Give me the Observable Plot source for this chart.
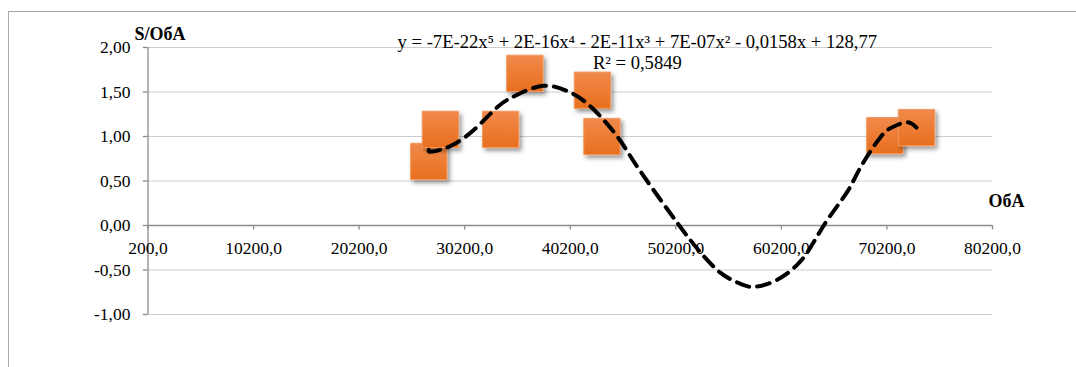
<!DOCTYPE html>
<html><head><meta charset="utf-8">
<script src="https://cdn.jsdelivr.net/npm/d3@7"></script>
<script src="https://cdn.jsdelivr.net/npm/@observablehq/plot@0.6"></script>
<style>
html,body{margin:0;padding:0;background:#fff;overflow:hidden;width:1076px;height:367px;}
#wrap{position:relative;width:1076px;height:367px;}
#frame{position:absolute;left:8px;top:11px;width:1100px;height:400px;border:1.5px solid #a8a8a8;box-sizing:border-box;}
#chart{position:absolute;left:0;top:0;}
#chart svg text{font-family:"Liberation Serif","Times New Roman","DejaVu Serif",serif !important;}
</style></head>
<body><div id="wrap"><div id="frame"></div><div id="chart"></div></div>
<script>
// Observed points
const obaValues   = [26800, 27900, 33600, 35900, 42300, 43200, 70000, 73000];
const ratioValues = [0.72, 1.08, 1.08, 1.71, 1.52, 1.00, 1.01, 1.10];
// Trendline
const trendX = [26800, 27140, 29130, 31400, 33390, 35190, 37650, 39930, 42100, 44660, 46550, 50340, 52520, 54410, 56030, 57540, 59810, 61710, 62940, 64550, 66450, 67680, 69570, 70810, 72130, 73000];
const trendY = [0.85, 0.83, 0.91, 1.11, 1.34, 1.47, 1.57, 1.51, 1.34, 1.00, 0.66, 0.03, -0.30, -0.53, -0.64, -0.69, -0.61, -0.44, -0.25, 0.06, 0.38, 0.65, 0.99, 1.11, 1.16, 1.10];
// Ticks and labels
const xTicks = [200, 10200, 20200, 30200, 40200, 50200, 60200, 70200, 80200];
const yTicks = [-1, -0.5, 0, 0.5, 1, 1.5, 2];
const equationLabel = "y = -7E-22x⁵ + 2E-16x⁴ - 2E-11x³ + 7E-07x² - 0,0158x + 128,77";
const r2Label = "R² = 0,5849";
const yTitle = "S/ОбА";
const xTitle = "ОбА";

const points = obaValues.map((x, i) => ({x, y: ratioValues[i]}));
const trend = trendX.map((x, i) => ({x, y: trendY[i]}));
const fmtY = d => d.toFixed(2).replace(".", ",");
const fmtX = d => d.toFixed(1).replace(".", ",");
const axisColor = "#8c8c8c";
const font = "Liberation Serif";

const chart = Plot.plot({
  width: 1076, height: 367,
  marginLeft: 147.5, marginRight: 84, marginTop: 47, marginBottom: 53,
  x: {domain: [200, 80200], axis: null},
  y: {domain: [-1, 2], axis: null},
  style: {fontFamily: font, fontSize: "17.5px", background: "transparent", color: "#000"},
  marks: [
    Plot.ruleY(yTicks.filter(d => d !== 0), {y: d => d, x1: 200, x2: 80200, stroke: "#9a9a9a", strokeWidth: 1, strokeDasharray: "1,1"}),
    Plot.ruleY([0], {y: d => d, x1: 200, x2: 80200, stroke: axisColor, strokeWidth: 1.3}),
    Plot.ruleX([200], {x: d => d, y1: -1, y2: 2, stroke: axisColor, strokeWidth: 1.3}),
    Plot.ruleY(yTicks, {y: d => d, x1: 200, x2: 200 - 450, stroke: axisColor, strokeWidth: 1.3}),
    Plot.ruleX(xTicks, {x: d => d, y1: 0, y2: -0.05, stroke: axisColor, strokeWidth: 1.3}),
    Plot.text(yTicks, {x: 200, y: d => d, text: fmtY, textAnchor: "end", dx: -17.5, fill: "#000", fontFamily: font}),
    Plot.text(xTicks, {x: d => d, y: 0, text: fmtX, textAnchor: "middle", dy: 22.5, fill: "#000", fontFamily: font}),
    Plot.text([yTitle], {x: 200, y: 2, text: d => d, textAnchor: "start", dx: -13.5, dy: -13.5, fontWeight: "bold", fontSize: 18, fill: "#000", fontFamily: font}),
    Plot.text([xTitle], {x: 80200, y: 0, text: d => d, textAnchor: "start", dx: -4, dy: -24.5, fontWeight: "bold", fontSize: 18, fill: "#000", fontFamily: font}),
    Plot.dot(points, {x: "x", y: "y", symbol: "square", r: 20.5, fill: "url(#sqGrad)", stroke: "#f29a62", strokeWidth: 1}),
    Plot.line(trend, {x: "x", y: "y", curve: "natural", stroke: "#000", strokeWidth: 4, strokeDasharray: "13,8"}),
    Plot.text([equationLabel], {x: 46555, y: 2, text: d => d, textAnchor: "middle", dy: -5, fontSize: 18.6, fill: "#000", fontFamily: font}),
    Plot.text([r2Label], {x: 46555, y: 2, text: d => d, textAnchor: "middle", dy: 15.5, fontSize: 18.6, fill: "#000", fontFamily: font})
  ]
});

const svg = d3.select(chart);
const defs = svg.insert("defs", ":first-child");
const grad = defs.append("linearGradient").attr("id", "sqGrad").attr("x1", 0).attr("y1", 0).attr("x2", 0).attr("y2", 1);
grad.append("stop").attr("offset", "0%").attr("stop-color", "#f08a4c");
grad.append("stop").attr("offset", "100%").attr("stop-color", "#e96f1d");
const f = defs.append("filter").attr("id", "sqShadow").attr("x", "-30%").attr("y", "-30%").attr("width", "170%").attr("height", "170%");
f.append("feDropShadow").attr("dx", 2.5).attr("dy", 3).attr("stdDeviation", 2.2).attr("flood-color", "#000").attr("flood-opacity", 0.4);
svg.selectAll("g[fill='url(#sqGrad)'] path").attr("filter", "url(#sqShadow)");
document.getElementById("chart").appendChild(chart);
</script>
</body></html>
